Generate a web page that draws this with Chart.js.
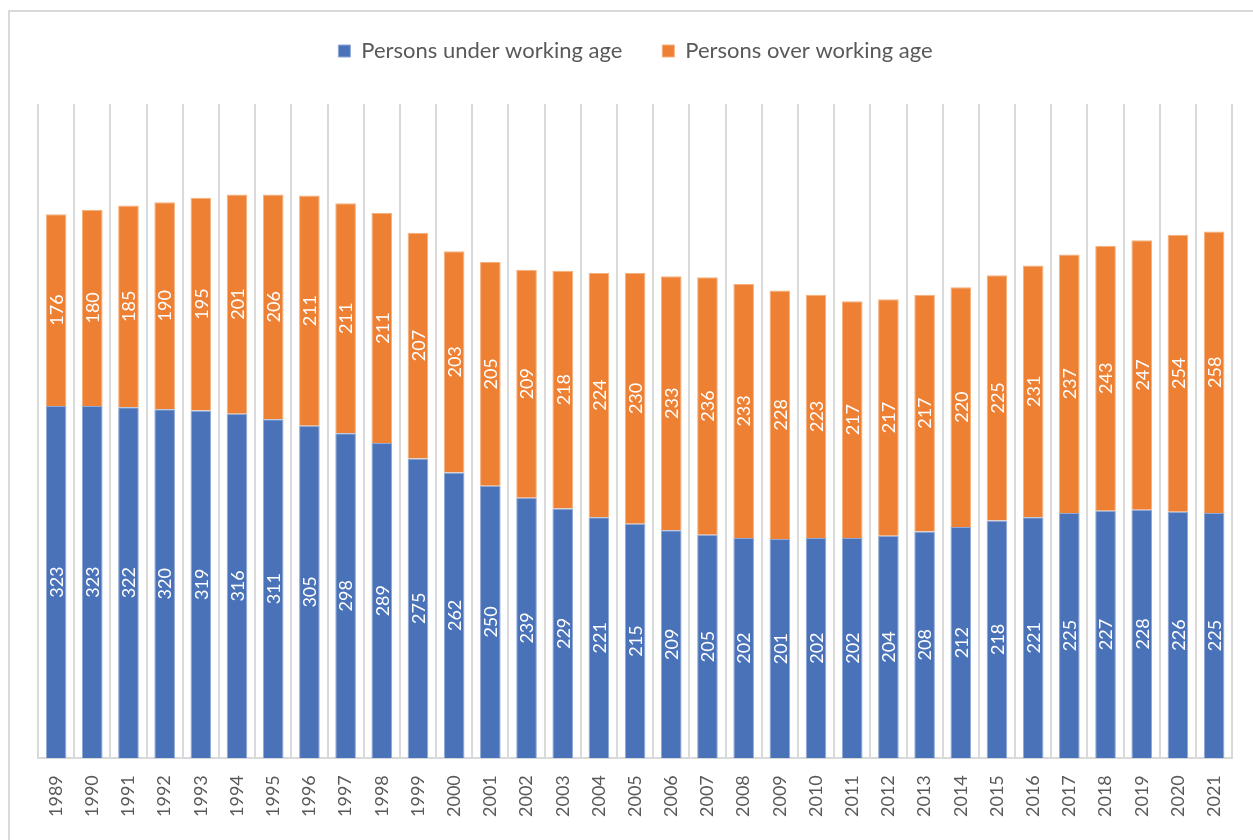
<!DOCTYPE html>
<html>
<head>
<meta charset="utf-8">
<script src="https://cdn.jsdelivr.net/npm/chart.js@4"></script>
<style>
  body { margin: 0; background: #fff; }
  #wrap { position: relative; width: 1253px; height: 840px; }
  #frame { position: absolute; left: 8px; top: 10px; width: 1250px; height: 850px; border: 2px solid #d9d9d9; box-sizing: border-box; }
  canvas { position: absolute; left: 0; top: 0; }
</style>
</head>
<body>
<div id="wrap">
  <div id="frame"></div>
  <canvas id="grafica" width="1253" height="840"></canvas>
</div>
<script>
const years = ['1989', '1990', '1991', '1992', '1993', '1994', '1995', '1996', '1997', '1998', '1999',
    '2000', '2001', '2002', '2003', '2004', '2005', '2006', '2007', '2008', '2009', '2010',
    '2011', '2012', '2013', '2014', '2015', '2016', '2017', '2018', '2019', '2020', '2021'];
const underAge = [323, 323, 322, 320, 319, 316, 311, 305, 298, 289, 275, 262, 250, 239, 229, 221,
    215, 209, 205, 202, 201, 202, 202, 204, 208, 212, 218, 221, 225, 227, 228, 226, 225];
const overAge = [176, 180, 185, 190, 195, 201, 206, 211, 211, 211, 207, 203, 205, 209, 218, 224,
    230, 233, 236, 233, 228, 223, 217, 217, 217, 220, 225, 231, 237, 243, 247, 254, 258];

const fuente = 'Lato, "Open Sans", sans-serif';

// etiquetas blancas giradas dentro de cada barra
const etiquetas = {
    id: 'etiquetas',
    afterDatasetsDraw(chart) {
        const ctx = chart.ctx;
        ctx.save();
        ctx.fillStyle = '#ffffff';
        ctx.font = '18px ' + fuente;
        ctx.textAlign = 'center';
        ctx.textBaseline = 'middle';
        chart.data.datasets.forEach((ds, i) => {
            chart.getDatasetMeta(i).data.forEach((bar, j) => {
                const y = (bar.y + bar.base) / 2;
                ctx.save();
                ctx.translate(bar.x, y);
                ctx.rotate(-Math.PI / 2);
                ctx.fillText(String(ds.data[j]), 0, 1);
                ctx.restore();
            });
        });
        ctx.restore();
    }
};

// deja mas espacio bajo la leyenda
const espacioLeyenda = {
    id: 'espacioLeyenda',
    beforeInit(chart) {
        const fit = chart.legend.fit;
        chart.legend.fit = function () {
            fit.bind(chart.legend)();
            this.height += 32;
        };
    }
};

let grafica = new Chart(document.getElementById('grafica').getContext('2d'), {
    type: 'bar',
    data: {
        labels: years,
        datasets: [{
            label: 'Persons under working age',
            data: underAge,
            backgroundColor: '#4a72b8',
            borderColor: '#8fa8d6',
            borderWidth: 1,
            categoryPercentage: 1,
            barPercentage: 0.57
        }, {
            label: 'Persons over working age',
            data: overAge,
            backgroundColor: '#ee8033',
            borderColor: '#f5b07e',
            borderWidth: 1,
            categoryPercentage: 1,
            barPercentage: 0.57
        }]
    },
    options: {
        responsive: false,
        animation: false,
        layout: { padding: { left: 38, right: 20, top: 0, bottom: 6 } },
        scales: {
            x: {
                stacked: true,
                grid: { display: true, offset: true, color: '#d9d9d9', lineWidth: 2, drawTicks: false },
                border: { display: true, color: '#d9d9d9', width: 2 },
                ticks: {
                    color: '#595959',
                    font: { family: fuente, size: 18 },
                    minRotation: 90,
                    maxRotation: 90,
                    padding: 17
                }
            },
            y: {
                stacked: true,
                display: false,
                min: 0,
                max: 600
            }
        },
        plugins: {
            legend: {
                position: 'top',
                labels: {
                    color: '#595959',
                    font: { family: fuente, size: 22 },
                    boxWidth: 12,
                    boxHeight: 12,
                    padding: 40
                }
            },
            tooltip: { enabled: false }
        }
    },
    plugins: [etiquetas, espacioLeyenda]
});
</script>
</body>
</html>
